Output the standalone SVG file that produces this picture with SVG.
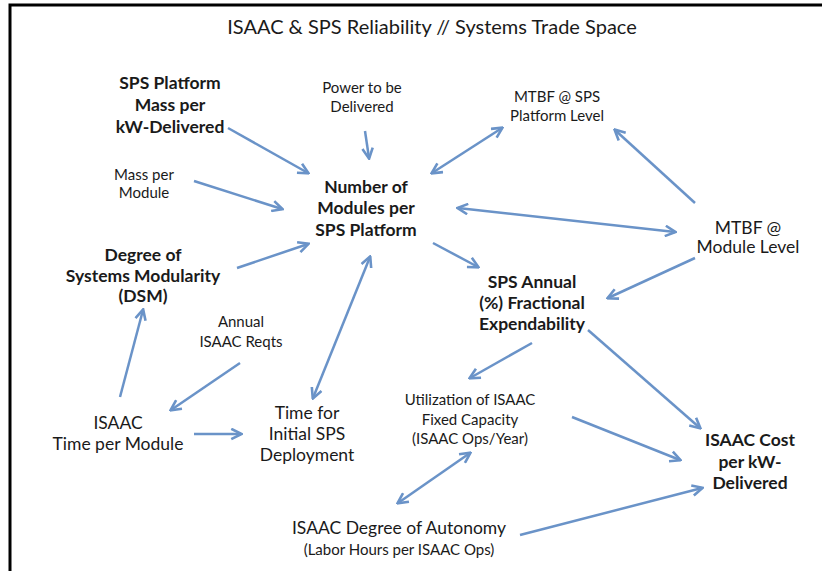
<svg xmlns="http://www.w3.org/2000/svg" width="822" height="571" viewBox="0 0 822 571">
<style>
text{font-family:Lato,"Open Sans","Liberation Sans",sans-serif;fill:#1a1a1a;text-anchor:middle}
.t{font-size:20px}
.b{font-size:17.5px;font-weight:bold}
.r{font-size:15px}
.m{font-size:17.5px}
.c line{stroke:#6a93c8;stroke-width:2.5;fill:none}
</style>
<defs>
<marker id="ah" viewBox="0 0 10 10" refX="8.5" refY="5" markerWidth="13" markerHeight="13" markerUnits="userSpaceOnUse" orient="auto-start-reverse">
<path d="M1,1 L9,5 L1,9" fill="none" stroke="#6a93c8" stroke-width="2"/>
</marker>
</defs>
<rect width="822" height="571" fill="#fff"/>
<path d="M10,571 V5 H822" fill="none" stroke="#000" stroke-width="3"/>
<text class="t" x="432" y="34">ISAAC &amp; SPS Reliability // Systems Trade Space</text>

<g id="sps-mass"><text class="b"><tspan x="170" y="89">SPS Platform</tspan><tspan x="170" y="111">Mass per</tspan><tspan x="170" y="133">kW-Delivered</tspan></text></g>
<g id="power"><text class="r"><tspan x="362" y="93">Power to be</tspan><tspan x="362" y="112">Delivered</tspan></text></g>
<g id="mtbf-sps"><text class="r"><tspan x="557" y="102">MTBF @ SPS</tspan><tspan x="557" y="121">Platform Level</tspan></text></g>
<g id="mass-module"><text class="r"><tspan x="144" y="180">Mass per</tspan><tspan x="144" y="198">Module</tspan></text></g>
<g id="num-modules"><text class="b"><tspan x="366" y="193">Number of</tspan><tspan x="366" y="214">Modules per</tspan><tspan x="366" y="236">SPS Platform</tspan></text></g>
<g id="mtbf-module"><text class="m"><tspan x="748" y="234">MTBF @</tspan><tspan x="748" y="253">Module Level</tspan></text></g>
<g id="dsm"><text class="b"><tspan x="143" y="261">Degree of</tspan><tspan x="143" y="282">Systems Modularity</tspan><tspan x="143" y="302">(DSM)</tspan></text></g>
<g id="sps-annual"><text class="b"><tspan x="532" y="288">SPS Annual</tspan><tspan x="532" y="309">(%) Fractional</tspan><tspan x="532" y="330">Expendability</tspan></text></g>
<g id="annual-reqts"><text class="r"><tspan x="241" y="327">Annual</tspan><tspan x="241" y="347">ISAAC Reqts</tspan></text></g>
<g id="isaac-time"><text class="m"><tspan x="118" y="429">ISAAC</tspan><tspan x="118" y="450">Time per Module</tspan></text></g>
<g id="time-initial"><text class="m"><tspan x="307" y="419">Time for</tspan><tspan x="307" y="440">Initial SPS</tspan><tspan x="307" y="461">Deployment</tspan></text></g>
<g id="utilization"><text class="r"><tspan x="470" y="405">Utilization of ISAAC</tspan><tspan x="470" y="425">Fixed Capacity</tspan><tspan x="470" y="444">(ISAAC Ops/Year)</tspan></text></g>
<g id="isaac-cost"><text class="b"><tspan x="750" y="446">ISAAC Cost</tspan><tspan x="750" y="468">per kW-</tspan><tspan x="750" y="489">Delivered</tspan></text></g>
<g id="autonomy"><text><tspan class="m" x="399" y="534">ISAAC Degree of Autonomy</tspan><tspan class="r" x="399" y="555">(Labor Hours per ISAAC Ops)</tspan></text></g>

<g id="connectors" class="c">
<line x1="228" y1="128" x2="308" y2="173" marker-end="url(#ah)"/>
<line x1="365" y1="131" x2="369" y2="158" marker-end="url(#ah)"/>
<line x1="194" y1="181" x2="282" y2="209" marker-end="url(#ah)"/>
<line x1="237" y1="268" x2="308" y2="244" marker-end="url(#ah)"/>
<line x1="432" y1="173" x2="502" y2="128" marker-start="url(#ah)" marker-end="url(#ah)"/>
<line x1="695" y1="203" x2="615" y2="130" marker-end="url(#ah)"/>
<line x1="458" y1="208" x2="675" y2="232" marker-start="url(#ah)" marker-end="url(#ah)"/>
<line x1="433" y1="243" x2="478" y2="267" marker-end="url(#ah)"/>
<line x1="695" y1="258" x2="608" y2="298" marker-end="url(#ah)"/>
<line x1="120" y1="397" x2="143" y2="310" marker-end="url(#ah)"/>
<line x1="240" y1="363" x2="171" y2="410" marker-end="url(#ah)"/>
<line x1="313" y1="398" x2="370" y2="257" marker-start="url(#ah)" marker-end="url(#ah)"/>
<line x1="194" y1="434" x2="241" y2="434" marker-end="url(#ah)"/>
<line x1="532" y1="343" x2="470" y2="378" marker-end="url(#ah)"/>
<line x1="588" y1="330" x2="700" y2="428" marker-end="url(#ah)"/>
<line x1="572" y1="417" x2="680" y2="460" marker-end="url(#ah)"/>
<line x1="470" y1="453" x2="398" y2="503" marker-start="url(#ah)" marker-end="url(#ah)"/>
<line x1="520" y1="535" x2="702" y2="488" marker-end="url(#ah)"/>
</g>
</svg>
